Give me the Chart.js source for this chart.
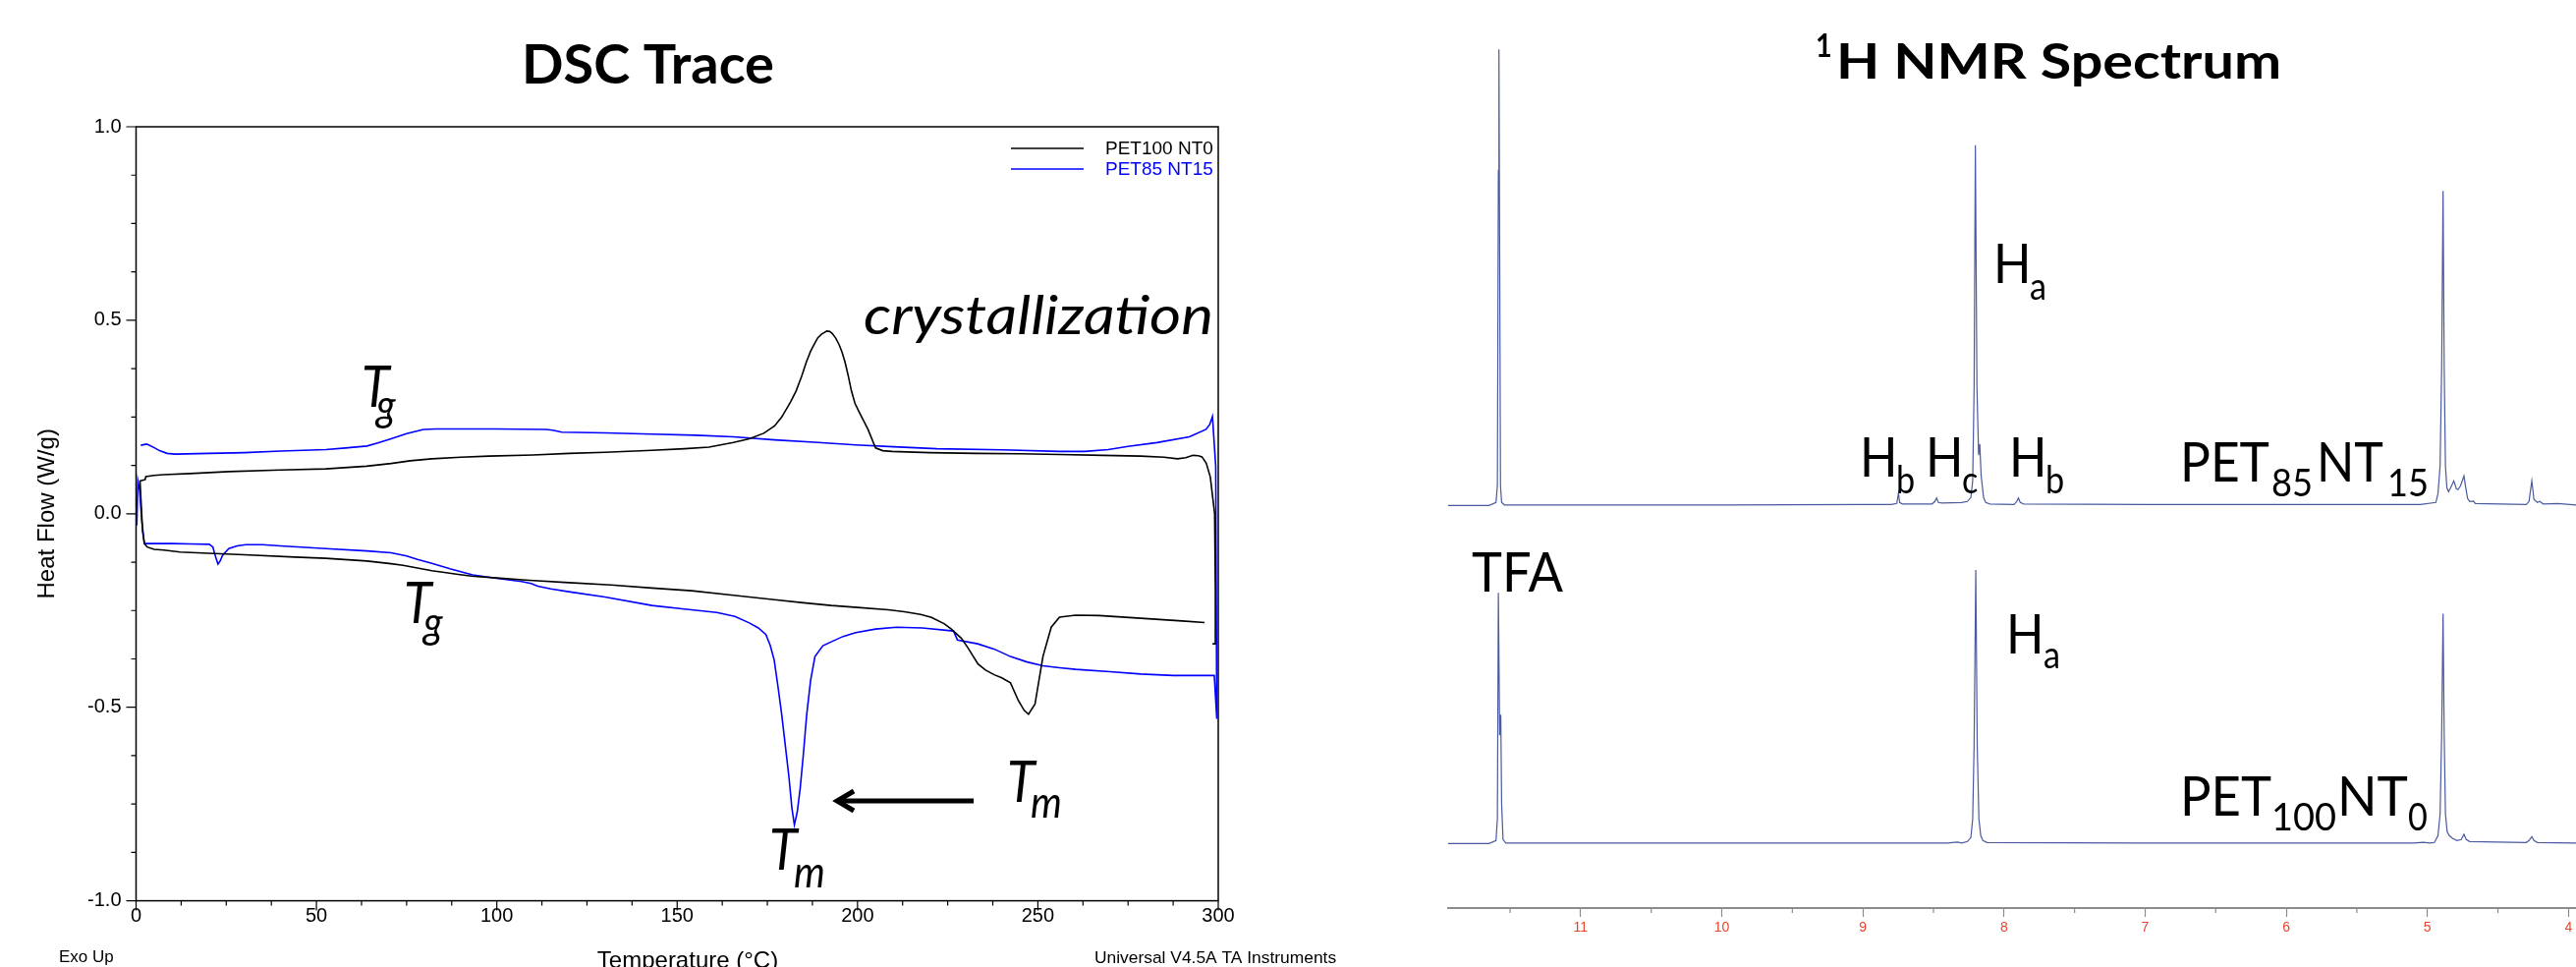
<!DOCTYPE html>
<html><head><meta charset="utf-8">
<script src="https://cdn.jsdelivr.net/npm/chart.js@4.4.1/dist/chart.umd.min.js"></script>
<style>
html,body{margin:0;padding:0;background:#fff;width:2622px;height:984px;overflow:hidden}
#dscWrap{position:absolute;left:0;top:0;width:1400px;height:984px}
#nmrWrap{position:absolute;left:1300px;top:0;width:1322px;height:984px}
canvas{display:block}
</style></head><body>
<div id="dscWrap"><canvas id="dsc" width="1400" height="984"></canvas></div>
<div id="nmrWrap"><canvas id="nmr" width="1322" height="984"></canvas></div>
<script>
// ---------------- DATA ----------------
const dscSeriesNames = ['PET100 NT0', 'PET85 NT15'];
const dscXTicks = [0, 50, 100, 150, 200, 250, 300];
const dscYTicks = [-1, -0.5, 0, 0.5, 1];
const dscXTitle = 'Temperature (°C)';
const dscYTitle = 'Heat Flow (W/g)';

// PET100 NT0 (black): lower trace right->left, then upper trace left->right
const pet100Temp = [296.2,290,278.5,267,260.5,256,253.7,251.4,249.2,247.4,246.2,244.6,242.4,240,237.9,235.5,233.4,230.5,228.8,226,224,220.5,217.5,213,208.5,200,192.7,185,177,165,154,143,131.7,120,109,100,93,88.8,85,82,78,74,70.7,64,52.6,44,30,20,12.2,7.7,5,3.1,2.3,1.8,1.1,
  1.5,2.5,2.7,5,7.7,15,25.8,40,52.6,63.9,70.7,76,82,90,97.8,110,120,130,143,152,158.8,165.6,170,174,177,179,181.5,183,184.5,185.8,187,188.1,189,190,191.5,192.3,193,194,194.9,195.7,196.5,197.4,198.3,199.3,200.5,202.9,205,207,209.6,220,233,245,256,268,278.5,285,288.7,291,293,294.5,295.5,296.7,297.8,298.5,299,299.2,299.2,298.4];
const pet100Flow = [-0.281,-0.277,-0.270,-0.263,-0.262,-0.267,-0.293,-0.369,-0.492,-0.518,-0.508,-0.483,-0.437,-0.424,-0.416,-0.404,-0.388,-0.345,-0.322,-0.298,-0.284,-0.268,-0.260,-0.253,-0.248,-0.242,-0.237,-0.230,-0.222,-0.210,-0.199,-0.192,-0.184,-0.178,-0.172,-0.166,-0.161,-0.156,-0.151,-0.147,-0.140,-0.133,-0.129,-0.122,-0.115,-0.112,-0.106,-0.102,-0.099,-0.094,-0.092,-0.086,-0.077,-0.045,0.085,
  0.086,0.088,0.096,0.099,0.101,0.104,0.109,0.113,0.116,0.123,0.130,0.137,0.142,0.146,0.149,0.152,0.156,0.159,0.164,0.168,0.172,0.184,0.194,0.208,0.227,0.250,0.290,0.318,0.355,0.392,0.420,0.440,0.455,0.464,0.472,0.471,0.466,0.453,0.437,0.418,0.393,0.358,0.318,0.285,0.262,0.218,0.170,0.163,0.161,0.158,0.156,0.155,0.153,0.151,0.149,0.146,0.142,0.145,0.151,0.150,0.147,0.130,0.095,0.040,0.000,-0.200,-0.336,-0.336];

// PET85 NT15 (blue): lower trace left->right, end drop, then upper trace right->left
const pet85Temp = [0.2,0.5,1.0,1.6,2.3,5,10,15,20.3,21.3,22,22.7,23.3,24,25.7,28,30.4,35,40,52.6,64,70.7,75,78,82,87,93.3,100,106.9,109.5,111.4,115,120.4,130,143,152,161,166,170,172.5,174.6,175.8,176.9,178,179,180,181,181.8,182.5,183.3,184.1,185,185.9,187,188.2,190.4,192.7,196,199.5,205,210.8,218,226.6,227.7,233.3,238,242.4,247,251.4,256,260.5,270,278.5,287.6,298.9,299.6,
  299.3,298.4,297.6,296.6,292,283,275,269.5,263,256,240,222,210,199.5,188,177,165.6,155,143,130,118,115.5,113.6,100,88.8,83,79.7,75,70.7,67,64,58,52.6,40,30,20,10.8,8.6,6.5,5.2,3.5,2.9,1.3];
const pet85Flow = [-0.030,0.085,0.060,-0.020,-0.077,-0.077,-0.077,-0.078,-0.079,-0.086,-0.110,-0.130,-0.122,-0.107,-0.090,-0.083,-0.080,-0.080,-0.083,-0.090,-0.096,-0.101,-0.109,-0.118,-0.128,-0.142,-0.158,-0.167,-0.175,-0.180,-0.187,-0.194,-0.202,-0.215,-0.237,-0.246,-0.255,-0.265,-0.282,-0.295,-0.312,-0.340,-0.378,-0.450,-0.520,-0.600,-0.681,-0.760,-0.804,-0.770,-0.710,-0.620,-0.520,-0.430,-0.369,-0.341,-0.331,-0.317,-0.307,-0.298,-0.293,-0.295,-0.303,-0.326,-0.336,-0.350,-0.369,-0.383,-0.393,-0.398,-0.402,-0.408,-0.414,-0.418,-0.418,-0.530,
  0.123,0.251,0.230,0.218,0.199,0.184,0.174,0.166,0.161,0.161,0.165,0.168,0.173,0.178,0.185,0.191,0.199,0.203,0.206,0.209,0.211,0.216,0.218,0.219,0.219,0.219,0.218,0.207,0.194,0.183,0.175,0.170,0.166,0.162,0.158,0.156,0.154,0.156,0.163,0.170,0.178,0.180,0.177];

// 1H NMR (chemical shift in ppm, intensity above own baseline, a.u.)
const nmrSeriesNames = ['PET85NT15', 'PET100NT0'];
const nmrTicks = [4, 5, 6, 7, 8, 9, 10, 11];
const nmrPpm85 = [11.939,11.65,11.60,11.59,11.583,11.579,11.575,11.568,11.56,11.54,11.0,10.0,9.0,8.80,8.76,8.748,8.74,8.72,8.51,8.49,8.478,8.465,8.44,8.30,8.26,8.235,8.222,8.212,8.203,8.192,8.18,8.172,8.162,8.145,8.13,8.10,7.93,7.91,7.898,7.885,7.86,7.0,6.0,5.05,4.94,4.925,4.91,4.899,4.889,4.881,4.872,4.862,4.85,4.835,4.813,4.795,4.783,4.765,4.741,4.728,4.715,4.70,4.674,4.66,4.30,4.28,4.26,4.245,4.22,4.203,4.18,4.077,3.947];
const nmrInt85 = [0,0,3,20,341,464,300,20,3,0.5,0.5,0.5,1,1,2,12.6,3,1.5,1.5,4,7.6,3,2.5,3,4,8,25,120,366.6,120,51,62.6,30,8,3,1.5,1,4,7.6,3,1.5,1,1,1,3,12,40,140,320,140,40,18,14,18,25,17,16,20,30,18,7,4,4.5,2,1,4,25,6,3,4,1.5,2,0.5];
const nmrPpm100 = [11.939,11.65,11.60,11.59,11.583,11.574,11.566,11.56,11.55,11.53,11.0,10.0,9.0,8.40,8.33,8.30,8.26,8.235,8.222,8.212,8.20,8.19,8.178,8.165,8.15,8.12,7.0,6.0,5.10,5.03,4.98,4.95,4.925,4.91,4.899,4.889,4.881,4.872,4.86,4.845,4.82,4.79,4.76,4.741,4.725,4.70,4.30,4.28,4.26,4.245,4.22,3.947];
const nmrInt100 = [0,0,3,25,255,110,131,40,4,0.5,0.5,0.5,0.5,0.5,1.5,0.5,2,6,25,100,278.3,100,25,8,3,1,0.5,0.5,0.5,1.2,0.5,1,8,30,110,233.7,110,30,12,8,5,3,4,9.4,4,2,1,3,7,3,1,0.5];

// ---------------- STYLE / LAYOUT ----------------
const ARIAL = "'Liberation Sans', Arial, sans-serif";
const CAL = "Lato, 'Open Sans', sans-serif";
const CAL_SX = 0.9;
const NMR_STACK = 344;
const NMR_COLOR = '#4a5a9e';

const toXY = (xs, ys, off = 0) => xs.map((x, i) => ({ x: x, y: ys[i] + off }));

function drawPieces(ctx, pieces, dx) {
  for (const p of pieces) {
    ctx.save();
    const fam = p.family || CAL;
    ctx.font = `${p.style || 'normal'} ${p.weight || 400} ${p.size}px ${fam}`;
    ctx.fillStyle = p.color || '#000';
    ctx.textBaseline = 'alphabetic';
    ctx.textAlign = p.align || 'left';
    let sx = (p.sx !== undefined) ? p.sx : (fam === CAL ? CAL_SX : 1);
    if (p.w) sx = p.w / ctx.measureText(p.text).width;
    ctx.translate(p.x - dx, p.y);
    ctx.scale(sx, 1);
    ctx.fillText(p.text, 0, 0);
    ctx.restore();
  }
}

const dscLabels = [
  { text: 'DSC Trace', x: 531, y: 85, size: 55, weight: 700, w: 257 },
  { text: 'crystallization', x: 879, y: 340, size: 55, style: 'italic', w: 356 },
  { text: 'T', x: 368, y: 414, size: 58, style: 'italic' }, { text: 'g', x: 383, y: 428, size: 45, style: 'italic' },
  { text: 'T', x: 411, y: 634, size: 58, style: 'italic' }, { text: 'g', x: 431, y: 649, size: 45, style: 'italic' },
  { text: 'T', x: 783, y: 885, size: 58, style: 'italic' }, { text: 'm', x: 808, y: 903, size: 45, style: 'italic' },
  { text: 'T', x: 1025, y: 816, size: 58, style: 'italic' }, { text: 'm', x: 1049, y: 832, size: 45, style: 'italic' },
  { text: 'Exo Up', x: 60, y: 979, size: 17, family: ARIAL },
  { text: 'Universal V4.5A TA Instruments', x: 1114, y: 980, size: 17.4, family: ARIAL },
  { text: dscXTitle, x: 700, y: 985, size: 24, family: ARIAL, align: 'center' }
];
const dscArrow = { from: { x: 232.2, y: -0.742 }, to: { x: 193.8, y: -0.742 } };

const nmrLabels = [
  { text: '1', x: 1848, y: 58, size: 32, weight: 700 },
  { text: 'H NMR Spectrum', x: 1869, y: 80, size: 50, weight: 700, w: 453 },
  { text: 'H', x: 2029, y: 288, size: 56 }, { text: 'a', x: 2066, y: 305, size: 38 },
  { text: 'H', x: 1893, y: 485, size: 56 }, { text: 'b', x: 1930, y: 502, size: 38 },
  { text: 'H', x: 1960, y: 485, size: 56 }, { text: 'c', x: 1997, y: 502, size: 38 },
  { text: 'H', x: 2045, y: 485, size: 56 }, { text: 'b', x: 2082, y: 502, size: 38 },
  { text: 'PET', x: 2219, y: 490, size: 56, w: 91 }, { text: '85', x: 2312, y: 505, size: 38, w: 42 },
  { text: 'NT', x: 2358, y: 490, size: 56, w: 68 }, { text: '15', x: 2430, y: 505, size: 38, w: 42 },
  { text: 'TFA', x: 1498, y: 602, size: 56, w: 93 },
  { text: 'H', x: 2042, y: 665, size: 56 }, { text: 'a', x: 2080, y: 680, size: 38 },
  { text: 'PET', x: 2219, y: 830, size: 56, w: 93 }, { text: '100', x: 2312, y: 845, size: 38, w: 66 },
  { text: 'NT', x: 2379, y: 830, size: 56, w: 72 }, { text: '0', x: 2451, y: 845, size: 38 }
];

// ---------------- DSC CHART ----------------
const dscDecor = {
  id: 'dscDecor',
  beforeDatasetsDraw(chart) {
    const { ctx, chartArea: ca, scales: { x, y } } = chart;
    ctx.save();
    ctx.strokeStyle = '#000';
    ctx.lineWidth = 1.5;
    ctx.strokeRect(ca.left, ca.top, ca.right - ca.left, ca.bottom - ca.top);
    ctx.lineWidth = 1.2;
    ctx.beginPath();
    for (let i = 0; i <= 24; i++) {
      const t = i * 12.5, px = x.getPixelForValue(t), len = (i % 4 === 0) ? 10 : 5;
      ctx.moveTo(px, ca.bottom); ctx.lineTo(px, ca.bottom + len);
    }
    for (let i = 0; i <= 16; i++) {
      const v = -1 + i * 0.125, py = y.getPixelForValue(v), len = (i % 4 === 0) ? 10 : 5;
      ctx.moveTo(ca.left, py); ctx.lineTo(ca.left - len, py);
    }
    ctx.stroke();
    ctx.restore();
  },
  afterDraw(chart) {
    const { ctx, scales: { x, y } } = chart;
    // legend
    ctx.save();
    chart.data.datasets.forEach((ds, i) => {
      const ly = 151 + i * 21;
      ctx.strokeStyle = ds.borderColor; ctx.lineWidth = 1.6;
      ctx.beginPath(); ctx.moveTo(1029, ly); ctx.lineTo(1103, ly); ctx.stroke();
      ctx.fillStyle = ds.borderColor; ctx.font = `19px ${ARIAL}`;
      ctx.textBaseline = 'alphabetic'; ctx.textAlign = 'left';
      ctx.fillText(ds.label, 1125, 157 + i * 21);
    });
    ctx.restore();
    drawPieces(ctx, dscLabels, 0);
    // arrow
    const x1 = x.getPixelForValue(dscArrow.from.x), y1 = y.getPixelForValue(dscArrow.from.y);
    const x2 = x.getPixelForValue(dscArrow.to.x), y2 = y.getPixelForValue(dscArrow.to.y);
    ctx.save();
    ctx.strokeStyle = '#000'; ctx.lineWidth = 5; ctx.lineCap = 'butt'; ctx.lineJoin = 'miter';
    ctx.beginPath(); ctx.moveTo(x1, y1); ctx.lineTo(x2 + 3, y2); ctx.stroke();
    ctx.beginPath(); ctx.moveTo(x2 + 19, y2 - 10); ctx.lineTo(x2 + 2, y2); ctx.lineTo(x2 + 19, y2 + 10); ctx.stroke();
    ctx.restore();
  }
};

new Chart(document.getElementById('dsc'), {
  type: 'scatter',
  data: {
    datasets: [
      { label: dscSeriesNames[0], data: toXY(pet100Temp, pet100Flow), showLine: true, borderColor: '#000000', borderWidth: 1.6, pointRadius: 0, tension: 0, fill: false },
      { label: dscSeriesNames[1], data: toXY(pet85Temp, pet85Flow), showLine: true, borderColor: '#0000ff', borderWidth: 1.6, pointRadius: 0, tension: 0, fill: false }
    ]
  },
  options: {
    responsive: false, animation: false, devicePixelRatio: 1,
    layout: { padding: { left: 0, top: 129, right: 160, bottom: 0 } },
    plugins: { legend: { display: false }, title: { display: false }, tooltip: { enabled: false } },
    scales: {
      x: {
        type: 'linear', min: 0, max: 300,
        afterBuildTicks: s => { s.ticks = dscXTicks.map(v => ({ value: v })); },
        afterFit: s => { s.height = 67.4; },
        grid: { display: false, drawTicks: false },
        border: { display: false },
        ticks: { color: '#000', font: { family: ARIAL, size: 20 }, padding: 4, maxRotation: 0, autoSkip: false },
        title: { display: false, text: dscXTitle }
      },
      y: {
        type: 'linear', min: -1, max: 1,
        afterBuildTicks: s => { s.ticks = dscYTicks.map(v => ({ value: v })); },
        afterFit: s => { s.width = 138.5; },
        grid: { display: false, drawTicks: false },
        border: { display: false },
        ticks: { color: '#000', font: { family: ARIAL, size: 20 }, padding: 15, callback: v => Number(v).toFixed(1) },
        title: { display: true, text: dscYTitle, color: '#000', font: { family: ARIAL, size: 24, lineHeight: 1 }, padding: { top: 36, bottom: 0 } }
      }
    }
  },
  plugins: [dscDecor]
});

// ---------------- NMR CHART ----------------
const nmrDecor = {
  id: 'nmrDecor',
  afterDraw(chart) {
    const { ctx, chartArea: ca, scales: { x } } = chart;
    ctx.save();
    ctx.strokeStyle = '#8c8c8c'; ctx.lineWidth = 1.2;
    ctx.beginPath();
    nmrTicks.forEach(t => {
      const v = t + 0.5;
      if (v <= x.max) { const px = x.getPixelForValue(v); ctx.moveTo(px, ca.bottom); ctx.lineTo(px, ca.bottom + 5); }
    });
    ctx.stroke();
    ctx.restore();
    drawPieces(ctx, nmrLabels, 1300);
  }
};

new Chart(document.getElementById('nmr'), {
  type: 'scatter',
  data: {
    datasets: [
      { label: nmrSeriesNames[0], data: toXY(nmrPpm85, nmrInt85, NMR_STACK), showLine: true, borderColor: NMR_COLOR, borderWidth: 1.2, pointRadius: 0, tension: 0 },
      { label: nmrSeriesNames[1], data: toXY(nmrPpm100, nmrInt100), showLine: true, borderColor: NMR_COLOR, borderWidth: 1.2, pointRadius: 0, tension: 0 }
    ]
  },
  options: {
    responsive: false, animation: false, devicePixelRatio: 1,
    layout: { padding: { left: 174, top: 24, right: 0, bottom: 0 } },
    plugins: { legend: { display: false }, title: { display: false }, tooltip: { enabled: false } },
    scales: {
      x: {
        type: 'linear', reverse: true, min: 3.947, max: 11.939,
        afterBuildTicks: s => { s.ticks = nmrTicks.map(v => ({ value: v })); },
        afterFit: s => { s.height = 60; },
        grid: { drawOnChartArea: false, drawTicks: true, tickLength: 9, tickColor: '#8c8c8c', tickWidth: 1.2 },
        border: { display: true, color: '#8c8c8c', width: 2 },
        ticks: { color: '#e8452c', font: { family: ARIAL, size: 14 }, padding: 3, maxRotation: 0, autoSkip: false, callback: v => String(v) }
      },
      y: { display: false, min: -65.7, max: 834.3 }
    }
  },
  plugins: [nmrDecor]
});
</script>
</body></html>
